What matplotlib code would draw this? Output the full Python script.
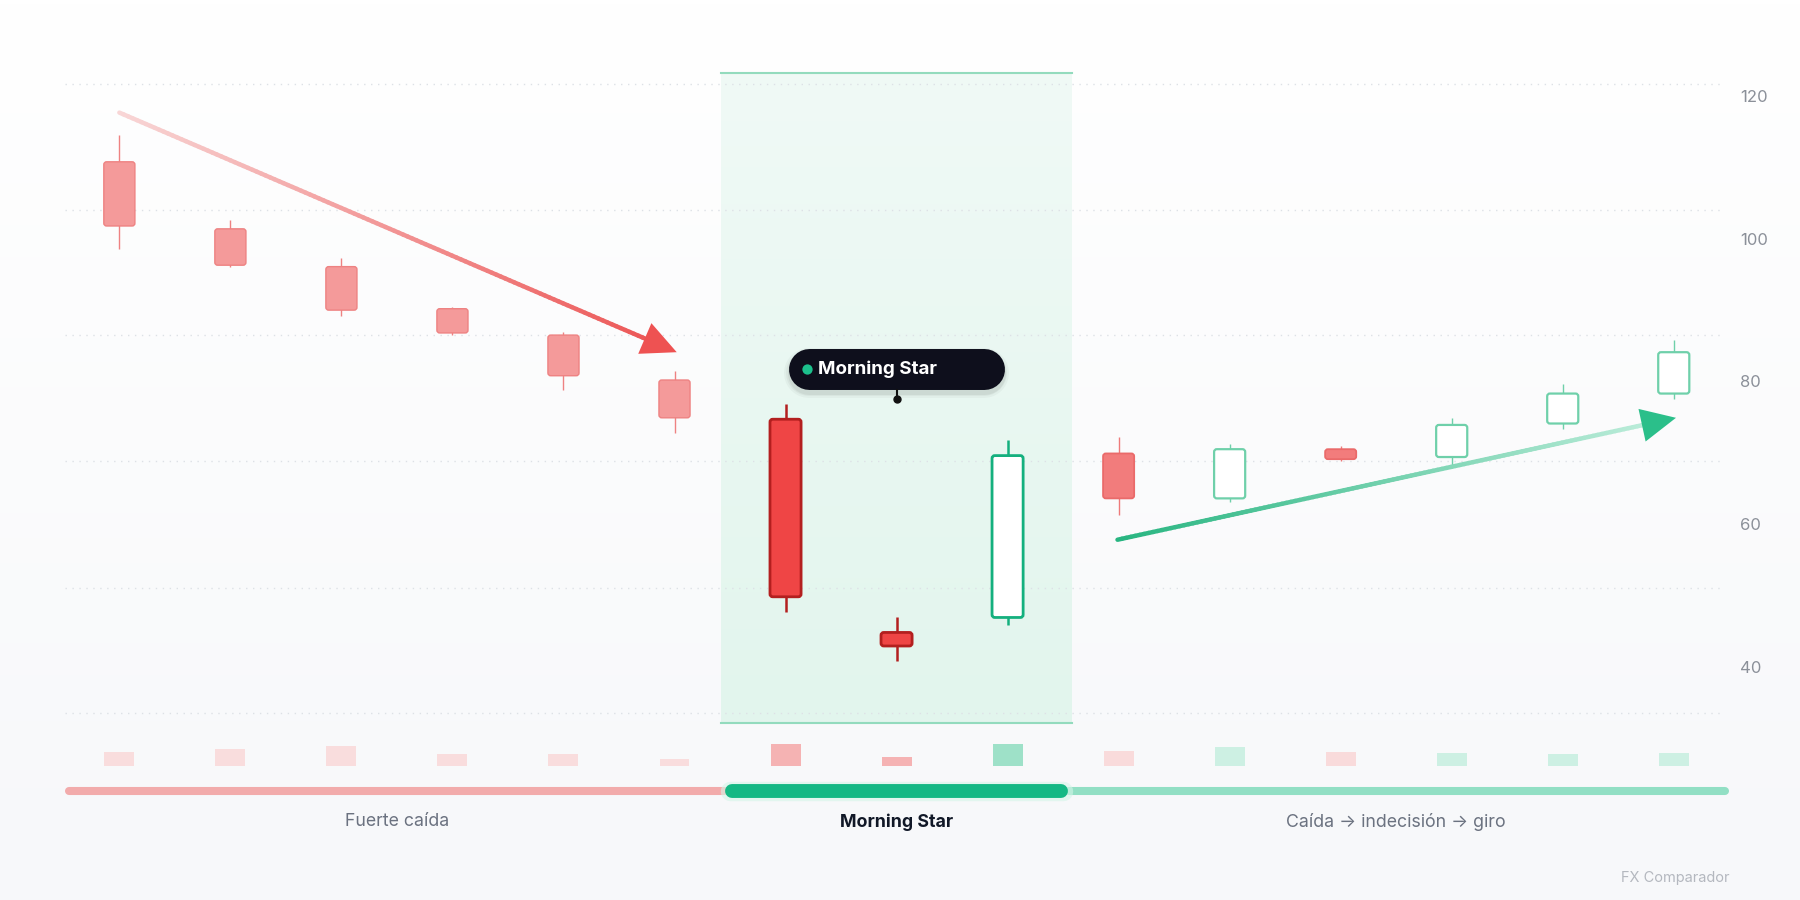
import matplotlib
matplotlib.use('Agg')
import matplotlib.pyplot as plt
import matplotlib.transforms as mtransforms
from matplotlib.patches import FancyBboxPatch
from matplotlib.collections import LineCollection
from matplotlib.colors import to_rgba, LinearSegmentedColormap
import numpy as np

plt.rcParams['font.family'] = ['Inter', 'DejaVu Sans']

# --- data ---
opens  = [111.0, 101.6, 96.3, 90.4, 86.7, 80.4, 74.9, 45.0, 47.1, 70.1, 63.8, 70.7, 69.6, 74.3, 78.5]
highs  = [114.7, 102.9, 97.5, 90.7, 87.2, 81.7, 77.0, 47.1, 72.0, 72.4, 71.4, 71.1, 75.1, 79.9, 86.0]
lows   = [98.8, 96.2, 89.4, 86.7, 79.0, 73.0, 47.9, 41.0, 46.0, 61.4, 63.3, 69.1, 68.0, 73.5, 77.7]
closes = [102.0, 96.5, 90.2, 87.0, 81.0, 75.1, 50.0, 43.1, 69.8, 63.8, 70.7, 69.3, 74.1, 78.5, 84.3]
volumes = [41, 50, 59, 35, 35, 20, 65, 26, 65, 44, 57, 42, 37, 35, 38]
phase = ['pre'] * 6 + ['star'] * 3 + ['post'] * 6

phase_names = ['Fuerte caída', 'Morning Star', 'Caída → indecisión → giro']
phase_bounds = [(-0.5, 5.5), (5.5, 8.5), (8.5, 14.5)]

yticks = [120, 100, 80, 60, 40]
grid_levels = [121.9, 104.2, 86.7, 69.0, 51.3, 33.7]

# styles per phase / direction
body_style = {
    ('pre', 'bear'):  dict(fc='#f49a9a', ec='#ee8282', lw=1.0, wick='#ee8282', wlw=1.0),
    ('star', 'bear'): dict(fc='#ef4545', ec='#b31f1f', lw=2.0, wick='#b31f1f', wlw=1.8),
    ('star', 'bull'): dict(fc='white',   ec='#14b07e', lw=2.0, wick='#14b07e', wlw=1.8),
    ('post', 'bear'): dict(fc='#f27c7c', ec='#ea6a6a', lw=1.3, wick='#ee7a7a', wlw=1.0),
    ('post', 'bull'): dict(fc='white',   ec='#6fd0aa', lw=1.6, wick='#6fd0aa', wlw=1.0),
}
vol_color = {
    ('pre', 'bear'): '#f9dddd', ('star', 'bear'): '#f5b3b3', ('star', 'bull'): '#9ee1c8',
    ('post', 'bear'): '#f9dbdb', ('post', 'bull'): '#cdf0e3',
}

fig = plt.figure(figsize=(18, 9), dpi=100)
fig.patch.set_facecolor('#fafbfc')
ax = fig.add_axes([0, 0, 1, 1])
ax.set_axis_off()
XL = (-1.075, 15.137)
YL = (7.48, 133.69)

# background gradient
bg = LinearSegmentedColormap.from_list('bg', ['#f7f8fa', '#ffffff'])
ax.imshow(np.linspace(0, 1, 256).reshape(-1, 1), cmap=bg, origin='lower',
          extent=[XL[0], XL[1], YL[0], YL[1]], aspect='auto', zorder=0)

# highlight band
hl = LinearSegmentedColormap.from_list('hl', ['#e2f5ed', '#f0faf6'])
ax.imshow(np.linspace(0, 1, 256).reshape(-1, 1), cmap=hl, origin='lower',
          extent=[5.42, 8.58, 32.3, 123.4], aspect='auto', zorder=1)
for yv in (32.3, 123.4):
    ax.plot([5.42, 8.58], [yv, yv], color='#93dbbd', lw=1.5, zorder=2)

# dotted grid
for g in grid_levels:
    ax.plot([-0.49, 14.43], [g, g], color='#dde1e6', lw=1.0, ls=(0, (1, 4)), zorder=1.5)

# y labels
for t in yticks:
    ax.text(14.6, t, str(t), ha='left', va='center', fontsize=12, color='#8b9099', zorder=5)

# candles
x = np.arange(len(opens))
bw = 0.28
aspect = (111.03 / 7.131)
for i in x:
    d = 'bull' if closes[i] > opens[i] else 'bear'
    st = body_style[(phase[i], d)]
    ax.plot([i, i], [lows[i], highs[i]], color=st['wick'], lw=st['wlw'], zorder=3,
            solid_capstyle='butt')
    lo, hi = min(opens[i], closes[i]), max(opens[i], closes[i])
    body = FancyBboxPatch((i - bw / 2, lo), bw, hi - lo,
                          boxstyle='round,pad=0,rounding_size=0.025',
                          mutation_aspect=aspect, fc=st['fc'], ec=st['ec'],
                          lw=st['lw'], zorder=4)
    ax.add_patch(body)


def grad_arrow(start, tip, c0, c1, head_c, lw=3.2):
    start = np.array(start)
    tip = np.array(tip)
    n = 120
    t = np.linspace(0, 0.955, n + 1)
    pts = start + (tip - start) * t[:, None]
    segs = np.stack([pts[:-1], pts[1:]], axis=1)
    a = np.array(to_rgba(c0))
    b = np.array(to_rgba(c1))
    cols = a + (b - a) * np.linspace(0, 1, n)[:, None]
    ax.add_collection(LineCollection(segs, colors=cols, linewidths=lw,
                                     capstyle='round', zorder=3.5))
    base = start + (tip - start) * 0.9
    ax.annotate('', xy=tip, xytext=base,
                arrowprops=dict(arrowstyle='-|>,head_length=1.25,head_width=0.6',
                                mutation_scale=20, lw=0, color=head_c,
                                shrinkA=0, shrinkB=0), zorder=3.6)


grad_arrow((0.0, 117.9), (5.02, 84.3), '#f8d6d6', '#ec5858', '#ee5252')
grad_arrow((8.99, 58.0), (14.02, 75.1), '#28b581', '#bbecd9', '#2bbf8a')

# tooltip pill (thick round-capped line gives a true pill shape)
pill_y = 81.875
for k, (w, al) in enumerate([(36, 0.03), (33, 0.04), (31, 0.05)]):
    ax.plot([6.2126, 7.7874], [pill_y - 0.45, pill_y - 0.45], color='black', lw=w,
            alpha=al, solid_capstyle='round', zorder=6)
ax.plot([6.2126, 7.7874], [pill_y, pill_y], color='#0e0f1c', lw=29.5,
        solid_capstyle='round', zorder=7)
ax.scatter([6.19], [pill_y], s=55, color='#1cc08c', zorder=8, lw=0)
ax.text(6.295, pill_y, 'Morning Star', color='white', fontsize=13.5, fontweight='bold',
        ha='left', va='center', zorder=8)
ax.plot([7.0, 7.0], [79.0, 77.67], color='#111111', lw=1.5, zorder=7)
ax.plot([7.0], [77.67], 'o', color='#111111', ms=5, zorder=7)

ax.set_xlim(*XL)
ax.set_ylim(*YL)

# volume strip
vax = fig.add_axes([0, 0.1492, 1, 0.05], sharex=ax)
vax.set_axis_off()
vax.patch.set_alpha(0)
vcols = [vol_color[(phase[i], 'bull' if closes[i] > opens[i] else 'bear')] for i in x]
vax.bar(x, volumes, width=0.27, color=vcols)
vax.set_ylim(0, 134)
vax.set_xlim(*XL)

# phase timeline
trans = mtransforms.blended_transform_factory(ax.transData, ax.transAxes)
ty = 0.1211
ax.plot([-0.45, 5.45], [ty, ty], transform=trans, color='#f2abab', lw=5.8,
        solid_capstyle='round', zorder=3)
ax.plot([8.55, 14.46], [ty, ty], transform=trans, color='#92dfc4', lw=5.8,
        solid_capstyle='round', zorder=3)
ax.plot([5.50, 8.50], [ty, ty], transform=trans, color='#d4f5e8', lw=14, alpha=0.6,
        solid_capstyle='round', zorder=3.2)
ax.plot([5.52, 8.48], [ty, ty], transform=trans, color='#14b884', lw=10,
        solid_capstyle='round', zorder=3.4)

for name, (a, b) in zip(phase_names, phase_bounds):
    bold = name == 'Morning Star'
    ax.text((a + b) / 2, 0.0867, name, transform=trans, ha='center', va='center',
            fontsize=12.8, fontweight='bold' if bold else 'normal',
            color='#111827' if bold else '#6b7280')

ax.text(14.5, 0.0244, 'FX Comparador', transform=trans, ha='right', va='center',
        fontsize=10.5, color='#b4b8bf')

fig.savefig('out.png', dpi=100, facecolor=fig.get_facecolor())
